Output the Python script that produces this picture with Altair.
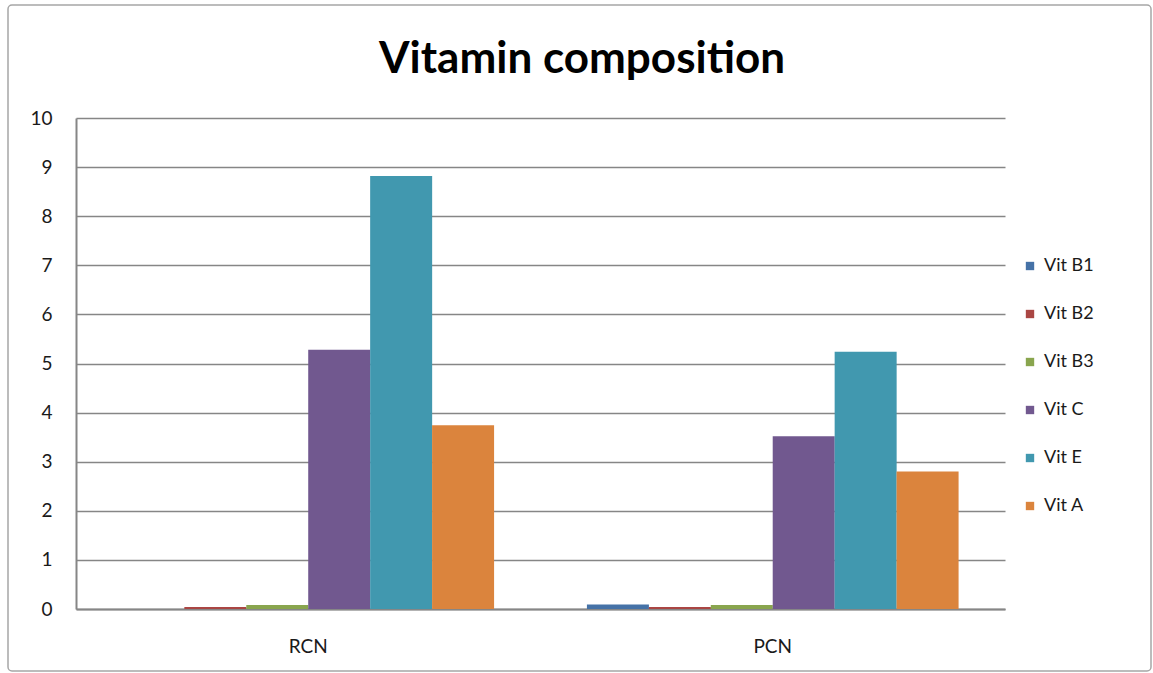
import altair as alt
import pandas as pd

# Vitamin content per sample
samples = ["RCN", "PCN"]
vitamins = ["Vit B1", "Vit B2", "Vit B3", "Vit C", "Vit E", "Vit A"]
rcn_values = [0.0, 0.04, 0.08, 5.28, 8.82, 3.74]
pcn_values = [0.09, 0.04, 0.08, 3.52, 5.24, 2.80]
colors = ["#4572A7", "#AA4643", "#89A54E", "#71588F", "#4198AF", "#DB843D"]
y_ticks = list(range(0, 11))
chart_title = "Vitamin composition"

rows = []
for sample, vals in zip(samples, [rcn_values, pcn_values]):
    for vit, v in zip(vitamins, vals):
        rows.append({"sample": sample, "vitamin": vit, "value": v})
df = pd.DataFrame(rows)

FONT = "Lato"
W, H = 929, 491
LEFT, TOP = 76, 118

bars = alt.Chart(df).mark_bar(size=62).encode(
    x=alt.X("sample:N", sort=samples, title=None,
            scale=alt.Scale(paddingInner=0.2, paddingOuter=0.1),
            axis=alt.Axis(labelAngle=0, ticks=False, tickSize=0, labelPadding=37,
                          labelBaseline="middle", labelFontSize=19, labelColor="#1a1a1a",
                          domainColor="#868686", domainWidth=2)),
    xOffset=alt.XOffset("vitamin:N", sort=vitamins, scale=alt.Scale(paddingInner=0, paddingOuter=0)),
    y=alt.Y("value:Q", title=None,
            scale=alt.Scale(domain=[0, 10], nice=False),
            axis=alt.Axis(values=y_ticks, ticks=False, tickSize=0, labelPadding=24,
                          labelFontSize=19, labelColor="#1a1a1a", labelBaseline="middle",
                          domainColor="#868686", domainWidth=2,
                          grid=True, gridColor="#868686", gridWidth=1.6)),
    color=alt.Color("vitamin:N", sort=vitamins,
                    scale=alt.Scale(domain=vitamins, range=colors),
                    legend=alt.Legend(title=None, orient="none", legendX=945, legendY=139,
                                      symbolType="square", symbolSize=70, symbolStrokeWidth=0,
                                      labelFontSize=18, labelColor="#1a1a1a", rowPadding=30,
                                      labelOffset=5)),
)

# Chart heading, centred on the full canvas
heading = alt.Chart(alt.Data(values=[{"t": chart_title}])).mark_text(
    font=FONT, fontSize=44, fontWeight="bold", color="#000000",
    align="center", baseline="alphabetic"
).encode(
    text="t:N",
    x=alt.value(582 - LEFT), y=alt.value(73 - TOP),
)

# Rounded frame around the whole chart area
frame = alt.Chart(alt.Data(values=[{"f": 1}])).mark_rect(
    fill=None, stroke="#a6a6a6", strokeWidth=1.5, cornerRadius=4
).encode(
    x=alt.value(8 - LEFT), x2=alt.value(1151 - LEFT),
    y=alt.value(5 - TOP), y2=alt.value(671 - TOP),
)

chart = alt.layer(bars, heading, frame).properties(
    width=W, height=H,
    autosize=alt.AutoSizeParams(type="none"),
    padding={"left": LEFT, "top": TOP, "right": 1153 - LEFT - W, "bottom": 673 - TOP - H},
).configure(font=FONT, background="white").configure_view(stroke=None)

chart.save("out.html", embed_options={"renderer": "svg", "actions": False})
